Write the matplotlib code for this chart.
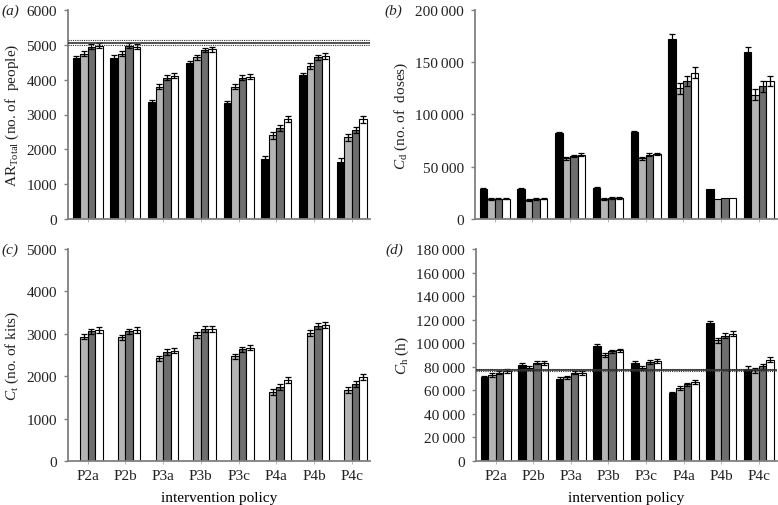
import matplotlib
matplotlib.use("Agg")
import matplotlib.pyplot as plt
import numpy as np

plt.rcParams['font.family'] = ['Liberation Serif', 'DejaVu Serif']
plt.rcParams['mathtext.fontset'] = 'custom'
plt.rcParams['mathtext.rm'] = 'Liberation Serif'
plt.rcParams['mathtext.it'] = 'Liberation Serif:italic'

policies = ["P2a", "P2b", "P3a", "P3b", "P3c", "P4a", "P4b", "P4c"]
series_colors = ["#000000", "#b4b4b4", "#6e6e6e", "#ffffff"]

# panel (a): AR_Total
ar_black = [4620, 4630, 3350, 4470, 3330, 1720, 4120, 1650]
ar_light = [4750, 4750, 3800, 4640, 3800, 2400, 4400, 2340]
ar_dark = [4950, 4970, 4060, 4850, 4060, 2610, 4640, 2560]
ar_white = [4970, 4950, 4110, 4870, 4090, 2870, 4680, 2860]
ar_err = [70, 70, 70, 70, 70, 90, 80, 90]
ar_ref = 5060
ar_ref_band = [4995, 5130]

# panel (b): C_d
cd_black = [29000, 29000, 82000, 29500, 83000, 172000, 29000, 160000]
cd_light = [19000, 18500, 58000, 19000, 58000, 125000, 19000, 119000]
cd_dark = [19500, 19000, 60500, 20000, 61500, 132000, 20000, 127000]
cd_white = [19500, 19500, 61500, 20000, 62000, 140000, 20000, 132000]
cd_err = [800, 800, 1200, 800, 1200, 5000, 0, 5000]

# panel (c): C_t (no black series)
ct_light = [2930, 2920, 2420, 2980, 2470, 1630, 3010, 1680]
ct_dark = [3060, 3060, 2570, 3120, 2640, 1750, 3180, 1820]
ct_white = [3090, 3090, 2600, 3120, 2670, 1910, 3200, 1990]
ct_err = [60, 60, 60, 70, 60, 70, 70, 70]

# panel (d): C_h
ch_black = [71000, 81500, 70000, 97500, 83000, 57500, 117000, 78500]
ch_light = [73000, 79000, 71000, 90000, 79000, 62000, 102500, 77000]
ch_dark = [75000, 83500, 75000, 93000, 84000, 65000, 106500, 80500]
ch_white = [76500, 83000, 74500, 94000, 85000, 67000, 108000, 86000]
ch_err = [1500, 1500, 1500, 1500, 1500, 1500, 2000, 2000]
ch_ref = 77000
ch_ref_band = [76000, 78000]

W, H = 778, 506
fig = plt.figure(figsize=(W / 100, H / 100), dpi=100)

def pos(l, t, r, b):
    return [l / W, 1 - b / H, (r - l) / W, (b - t) / H]

axes = {
    'a': fig.add_axes(pos(68, 11, 370, 220)),
    'b': fig.add_axes(pos(475, 11, 777, 220)),
    'c': fig.add_axes(pos(68, 250, 370, 462)),
    'd': fig.add_axes(pos(476, 250, 777, 462)),
}

def fmt_thou(v):
    v = int(v)
    if v >= 10000:
        s = f"{v:d}"
        return s[:-3] + "\u2009" + s[-3:]
    return str(v)

def draw(ax, series, err, ylim, step, ylabel, label, xlabels, thin=False):
    x = np.arange(len(policies))
    w = 0.2
    for i, vals in enumerate(series):
        if vals is None:
            continue
        xs = x + (i - 1.5) * w
        ax.bar(xs, vals, width=w, color=series_colors[i], edgecolor='black',
               linewidth=0.8, zorder=2)
        e = np.array(err, dtype=float)
        mask = e > 0
        ax.errorbar(xs[mask], np.array(vals)[mask], yerr=e[mask], fmt='none',
                    ecolor='black', elinewidth=0.9, capsize=2, capthick=0.9, zorder=3)
    ax.set_xlim(-0.52, 7.48)
    ax.set_ylim(*ylim)
    ticks = np.arange(ylim[0], ylim[1] + 1, step)
    ax.set_yticks(ticks)
    ax.set_yticklabels([fmt_thou(t) if thin else str(int(t)) for t in ticks])
    ax.set_xticks(x)
    if xlabels:
        ax.set_xticklabels(policies)
        ax.set_xlabel("intervention policy", fontsize=11, labelpad=6)
    else:
        ax.set_xticklabels([])
    for s in ['top', 'right']:
        ax.spines[s].set_visible(False)
    for s in ['left', 'bottom']:
        ax.spines[s].set_color('#808080')
        ax.spines[s].set_linewidth(1.3)
    ax.tick_params(axis='y', colors='#808080', labelcolor='#222222', labelsize=11,
                   length=3, width=1, pad=5)
    ax.tick_params(axis='x', colors='#aaaaaa', labelcolor='#222222', labelsize=11,
                   length=2, width=0.6, pad=4)
    ax.set_ylabel(ylabel, fontsize=11, color='#222222', labelpad=4)
    ax.text(-0.22 if not thin else -0.30, 1.0, label, transform=ax.transAxes,
            fontsize=11, style='italic', va='center', ha='left', color='#222222')

draw(axes['a'], [ar_black, ar_light, ar_dark, ar_white], ar_err, (0, 6000), 1000,
     r"AR$_{\mathrm{Total}}$ (no. of  people)", "(a)", False)
draw(axes['b'], [cd_black, cd_light, cd_dark, cd_white], cd_err, (0, 200000), 50000,
     r"$C_{\mathrm{d}}$ (no. of  doses)", "(b)", False, thin=True)
draw(axes['c'], [None, ct_light, ct_dark, ct_white], ct_err, (0, 5000), 1000,
     r"$C_{\mathrm{t}}$ (no. of kits)", "(c)", True)
draw(axes['d'], [ch_black, ch_light, ch_dark, ch_white], ch_err, (0, 180000), 20000,
     r"$C_{\mathrm{h}}$ (h)", "(d)", True, thin=True)

axA = axes['a']
axA.axhline(ar_ref, color='#333333', linewidth=1.2, zorder=4)
for v in ar_ref_band:
    axA.axhline(v, color='#333333', linewidth=0.8, linestyle=(0, (1, 1)), zorder=4)
axD = axes['d']
axD.axhline(ch_ref, color='#333333', linewidth=1.2, zorder=4)
for v in ch_ref_band:
    axD.axhline(v, color='#333333', linewidth=0.8, linestyle=(0, (1, 1)), zorder=4)

fig.savefig("out.png", dpi=100)
